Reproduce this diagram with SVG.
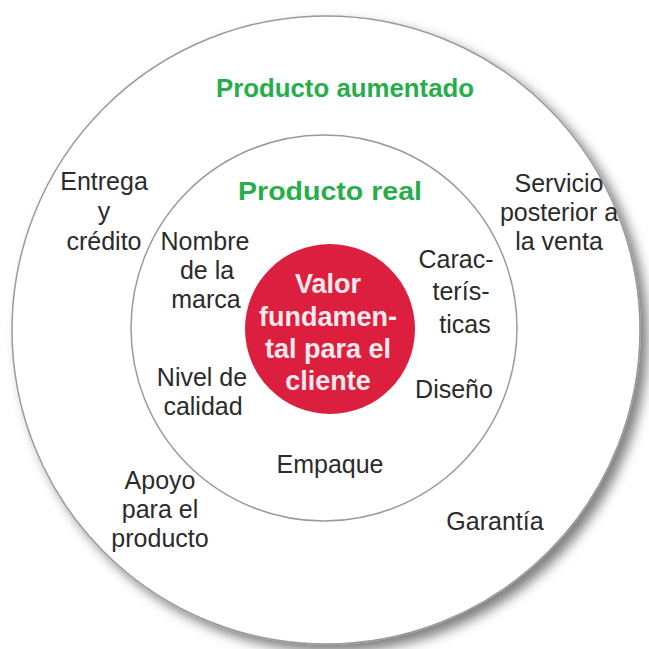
<svg xmlns="http://www.w3.org/2000/svg" width="649" height="649" viewBox="0 0 649 649">
<defs>
<filter id="sh" x="-10%" y="-10%" width="125%" height="125%">
<feDropShadow dx="7" dy="7" stdDeviation="6" flood-color="#000" flood-opacity="0.5"/>
</filter>
<style>
.ring{fill:#fff;stroke:#9a9a9a;stroke-width:1.5}
.lbl{font-family:"Liberation Sans",Arial,sans-serif;font-size:25px;fill:#2b2b2b;text-anchor:middle}
.grn{font-family:"Liberation Sans",Arial,sans-serif;font-weight:bold;font-size:25px;fill:#27ae4a;text-anchor:middle}
.core{font-family:"Liberation Sans",Arial,sans-serif;font-weight:bold;font-size:27px;fill:#fbe9ec;text-anchor:middle}
</style>
</defs>
<rect width="649" height="649" fill="#fff"/>
<g id="outer">
<circle class="ring" cx="326" cy="330" r="314" filter="url(#sh)"/>
<text class="grn" x="345" y="97" textLength="258" lengthAdjust="spacingAndGlyphs">Producto aumentado</text>
</g>
<g id="inner">
<circle class="ring" cx="324" cy="328" r="193"/>
<text class="grn" x="330" y="200" textLength="184" lengthAdjust="spacingAndGlyphs">Producto real</text>
</g>
<g id="core">
<circle cx="330" cy="329" r="85" fill="#dc1f3e"/>
<text class="core" x="328" y="293">Valor</text>
<text class="core" x="328" y="326">fundamen-</text>
<text class="core" x="328" y="358">tal para el</text>
<text class="core" x="328" y="390">cliente</text>
</g>
<g id="entrega"><text class="lbl" x="104" y="190">Entrega</text><text class="lbl" x="104" y="220">y</text><text class="lbl" x="104" y="250">crédito</text></g>
<g id="servicio"><text class="lbl" x="559" y="192">Servicio</text><text class="lbl" x="559" y="221">posterior a</text><text class="lbl" x="559" y="250">la venta</text></g>
<g id="nombre"><text class="lbl" x="205" y="250">Nombre</text><text class="lbl" x="207" y="279">de la</text><text class="lbl" x="206" y="308">marca</text></g>
<g id="caracteristicas"><text class="lbl" x="456" y="268">Carac-</text><text class="lbl" x="461" y="300">terís-</text><text class="lbl" x="465" y="333">ticas</text></g>
<g id="nivel"><text class="lbl" x="202" y="386">Nivel de</text><text class="lbl" x="203" y="415">calidad</text></g>
<g id="diseno"><text class="lbl" x="454" y="398">Diseño</text></g>
<g id="empaque"><text class="lbl" x="330" y="473">Empaque</text></g>
<g id="apoyo"><text class="lbl" x="160" y="489">Apoyo</text><text class="lbl" x="160" y="518">para el</text><text class="lbl" x="160" y="547">producto</text></g>
<g id="garantia"><text class="lbl" x="495" y="530">Garantía</text></g>
</svg>
